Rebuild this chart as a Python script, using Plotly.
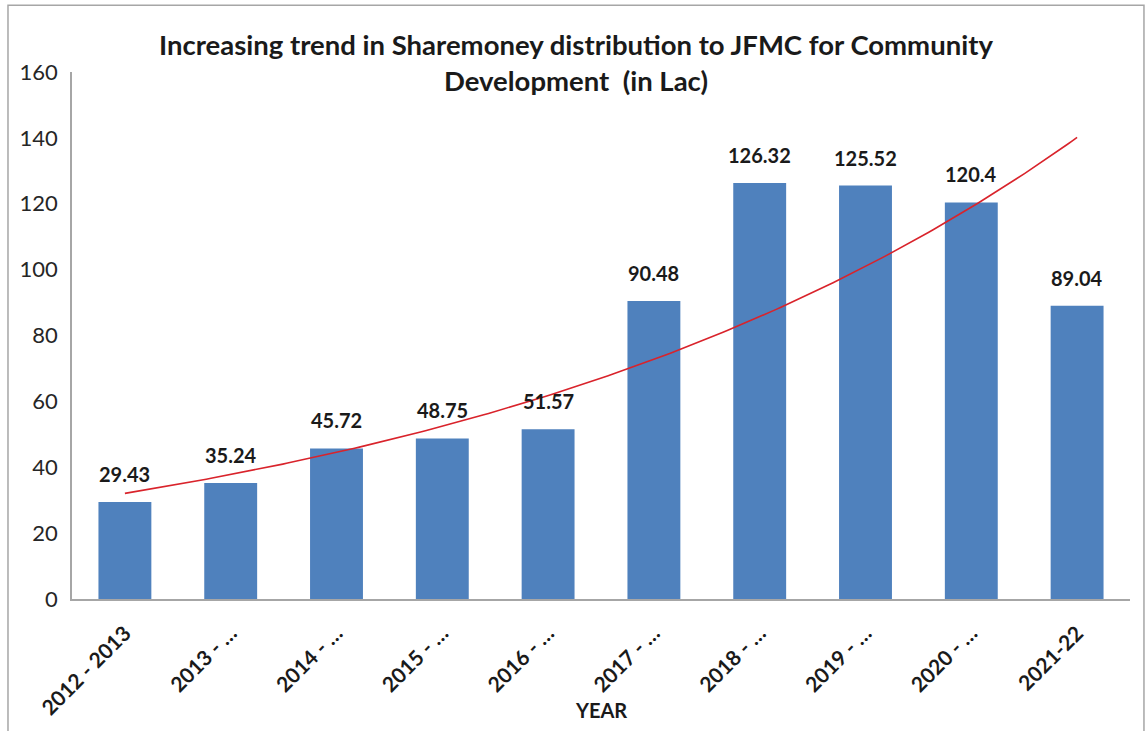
import numpy as np
import plotly.graph_objects as go

# Share money distributed to JFMC per financial year (in Lac)
years = ["2012 - 2013", "2013 - …", "2014 - …", "2015 - …", "2016 - …",
         "2017 - …", "2018 - …", "2019 - …", "2020 - …", "2021-22"]
amounts = [29.43, 35.24, 45.72, 48.75, 51.57, 90.48, 126.32, 125.52, 120.4, 89.04]
label_text = ["29.43", "35.24", "45.72", "48.75", "51.57",
              "90.48", "126.32", "125.52", "120.4", "89.04"]
y_ticks = [0, 20, 40, 60, 80, 100, 120, 140, 160]

FONT = "Lato"
pos = np.arange(len(years))

# Exponential trendline fitted to the amounts (least squares on log values)
slope, intercept = np.polyfit(pos + 1, np.log(amounts), 1)
trend_x = np.linspace(pos[0], pos[-1], 200)
trend_y = np.exp(intercept + slope * (trend_x + 1))

fig = go.Figure()
fig.add_trace(go.Bar(
    x=pos, y=amounts, width=0.5,
    marker=dict(color="#4F81BD", line=dict(width=0)),
    showlegend=False, hoverinfo="x+y",
))
fig.add_trace(go.Scatter(
    x=trend_x, y=trend_y, mode="lines",
    line=dict(color="#D9232B", width=1.6),
    showlegend=False, hoverinfo="skip",
))

for p, v, t in zip(pos, amounts, label_text):
    fig.add_annotation(
        x=p, y=v, text=f"<b>{t}</b>", showarrow=False,
        yanchor="middle", yshift=28,
        font=dict(family=FONT, size=20, color="#1a1a1a"),
    )

fig.add_annotation(
    x=0.5, y=-0.21, xref="paper", yref="paper", text="<b>YEAR</b>",
    showarrow=False, yanchor="middle",
    font=dict(family=FONT, size=20, color="#1a1a1a"),
)

# Outer chart frame
fig.add_shape(
    type="rect", xref="paper", yref="paper",
    x0=-0.0605, x1=1.0132, y0=-0.27, y1=1.1267,
    line=dict(color="#A6A6A6", width=1.5), fillcolor="rgba(0,0,0,0)",
    layer="below",
)

fig.update_layout(
    width=1145, height=731,
    margin=dict(l=72, r=15, t=72, b=130),
    paper_bgcolor="white", plot_bgcolor="white",
    title=dict(
        text="<b>Increasing trend in Sharemoney distribution to JFMC for Community<br>"
             "Development  (in Lac)</b>",
        x=0.503, xanchor="center", y=0.925, yanchor="middle",
        font=dict(family=FONT, size=27.5, color="#1a1a1a"),
    ),
    xaxis=dict(
        range=[-0.5, 9.5], tickmode="array", tickvals=pos,
        ticktext=[f"<b>{y}</b>" for y in years], tickangle=-45,
        tickfont=dict(family=FONT, size=21, color="#1a1a1a"),
        showline=True, linecolor="#A6A6A6", linewidth=1.5,
        showgrid=False, zeroline=False, ticks="", ticklabelstandoff=12,
    ),
    yaxis=dict(
        range=[0, 160], tickmode="array", tickvals=y_ticks,
        tickfont=dict(family=FONT, size=22, color="#262626"),
        showline=True, linecolor="#A6A6A6", linewidth=1.5,
        showgrid=False, zeroline=False, ticks="", ticklabelstandoff=8,
    ),
    bargap=0.5,
)

fig.write_html("out.html")
